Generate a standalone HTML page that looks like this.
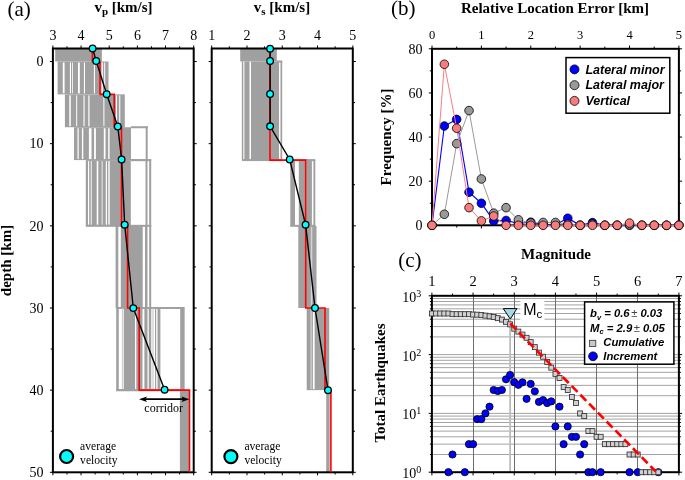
<!DOCTYPE html>
<html><head><meta charset="utf-8"><style>
html,body{margin:0;padding:0;background:#fff;}
svg{display:block;}
svg{will-change:transform;}
</style></head><body>
<svg width="685" height="480" viewBox="0 0 685 480">
<rect width="685" height="480" fill="#fff"/>
<g>
<rect x="55.20" y="48.50" width="46.70" height="13.00" fill="#a0a0a0"/>
<rect x="57.60" y="61.50" width="50.90" height="32.86" fill="#a0a0a0"/>
<rect x="62.80" y="62.50" width="1.80" height="30.86" fill="#fff"/>
<rect x="69.90" y="62.50" width="1.10" height="30.86" fill="#fff"/>
<rect x="72.20" y="62.50" width="0.80" height="30.86" fill="#fff"/>
<rect x="78.00" y="62.50" width="1.80" height="30.86" fill="#fff"/>
<rect x="83.90" y="62.50" width="1.10" height="30.86" fill="#fff"/>
<rect x="93.90" y="62.50" width="1.10" height="30.86" fill="#fff"/>
<rect x="101.60" y="62.50" width="1.20" height="30.86" fill="#fff"/>
<rect x="104.20" y="62.50" width="1.00" height="30.86" fill="#fff"/>
<rect x="64.90" y="94.36" width="59.90" height="32.86" fill="#a0a0a0"/>
<rect x="69.30" y="95.36" width="1.50" height="30.86" fill="#fff"/>
<rect x="76.20" y="95.36" width="1.00" height="30.86" fill="#fff"/>
<rect x="83.50" y="95.36" width="1.10" height="30.86" fill="#fff"/>
<rect x="88.30" y="95.36" width="1.20" height="30.86" fill="#fff"/>
<rect x="103.40" y="95.36" width="1.00" height="30.86" fill="#fff"/>
<rect x="116.00" y="95.36" width="1.00" height="30.86" fill="#fff"/>
<rect x="119.20" y="95.36" width="1.10" height="30.86" fill="#fff"/>
<rect x="131.00" y="126.23" width="16.70" height="2.00" fill="#a0a0a0"/>
<rect x="131.00" y="159.09" width="16.70" height="2.00" fill="#a0a0a0"/>
<rect x="145.70" y="126.23" width="2.00" height="34.86" fill="#a0a0a0"/>
<rect x="74.00" y="127.23" width="57.00" height="32.86" fill="#a0a0a0"/>
<rect x="77.50" y="128.23" width="1.20" height="30.86" fill="#fff"/>
<rect x="81.90" y="128.23" width="1.40" height="30.86" fill="#fff"/>
<rect x="88.90" y="128.23" width="2.60" height="30.86" fill="#fff"/>
<rect x="94.10" y="128.23" width="1.80" height="30.86" fill="#fff"/>
<rect x="103.80" y="128.23" width="1.70" height="30.86" fill="#fff"/>
<rect x="108.20" y="128.23" width="1.40" height="30.86" fill="#fff"/>
<rect x="130.80" y="159.09" width="20.40" height="2.00" fill="#a0a0a0"/>
<rect x="130.80" y="224.82" width="20.40" height="2.00" fill="#a0a0a0"/>
<rect x="149.20" y="159.09" width="2.00" height="67.73" fill="#a0a0a0"/>
<rect x="145.50" y="160.09" width="2.00" height="65.73" fill="#a0a0a0"/>
<rect x="85.80" y="160.09" width="45.00" height="65.73" fill="#a0a0a0"/>
<rect x="88.00" y="161.09" width="1.20" height="63.73" fill="#fff"/>
<rect x="90.80" y="161.09" width="0.90" height="63.73" fill="#fff"/>
<rect x="96.70" y="161.09" width="1.60" height="63.73" fill="#fff"/>
<rect x="101.70" y="161.09" width="0.80" height="63.73" fill="#fff"/>
<rect x="105.80" y="161.09" width="1.20" height="63.73" fill="#fff"/>
<rect x="108.30" y="161.09" width="1.40" height="63.73" fill="#fff"/>
<rect x="85.80" y="224.82" width="45.00" height="2.00" fill="#a0a0a0"/>
<rect x="115.60" y="225.82" width="2.70" height="82.16" fill="#a0a0a0"/>
<rect x="120.80" y="225.82" width="21.90" height="82.16" fill="#a0a0a0"/>
<rect x="145.00" y="225.82" width="2.50" height="82.16" fill="#a0a0a0"/>
<rect x="149.20" y="225.82" width="2.00" height="82.16" fill="#a0a0a0"/>
<rect x="116.20" y="306.98" width="68.20" height="2.00" fill="#a0a0a0"/>
<rect x="116.20" y="389.14" width="68.20" height="2.00" fill="#a0a0a0"/>
<rect x="182.40" y="306.98" width="2.00" height="84.16" fill="#a0a0a0"/>
<rect x="116.20" y="307.98" width="2.55" height="82.16" fill="#a0a0a0"/>
<rect x="121.90" y="307.98" width="1.00" height="82.16" fill="#c8c8c8"/>
<rect x="123.75" y="307.98" width="11.25" height="82.16" fill="#a0a0a0"/>
<rect x="136.30" y="307.98" width="6.20" height="82.16" fill="#a0a0a0"/>
<rect x="144.40" y="307.98" width="3.10" height="82.16" fill="#a0a0a0"/>
<rect x="148.75" y="307.98" width="2.50" height="82.16" fill="#a0a0a0"/>
<rect x="152.50" y="307.98" width="1.00" height="82.16" fill="#c0c0c0"/>
<rect x="155.00" y="307.98" width="1.20" height="82.16" fill="#a0a0a0"/>
<rect x="157.50" y="307.98" width="2.90" height="82.16" fill="#a0a0a0"/>
<rect x="180.20" y="307.98" width="4.20" height="82.16" fill="#a0a0a0"/>
<rect x="116.20" y="389.14" width="68.20" height="2.00" fill="#a0a0a0"/>
<rect x="179.90" y="390.14" width="9.50" height="82.16" fill="#a0a0a0"/>
</g>
<rect x="240.20" y="48.50" width="36.60" height="13.00" fill="#a0a0a0"/>
<rect x="241.80" y="61.50" width="1.50" height="98.59" fill="#a0a0a0"/>
<rect x="244.40" y="61.50" width="5.10" height="98.59" fill="#a0a0a0"/>
<rect x="251.00" y="61.50" width="28.00" height="98.59" fill="#a0a0a0"/>
<rect x="280.50" y="61.50" width="1.70" height="98.59" fill="#a0a0a0"/>
<rect x="276.80" y="60.50" width="5.50" height="2.00" fill="#a0a0a0"/>
<rect x="242.00" y="159.09" width="40.30" height="2.00" fill="#a0a0a0"/>
<rect x="290.30" y="159.09" width="25.00" height="2.00" fill="#a0a0a0"/>
<rect x="290.30" y="160.09" width="4.70" height="65.73" fill="#a0a0a0"/>
<rect x="298.80" y="160.09" width="6.50" height="65.73" fill="#a0a0a0"/>
<rect x="306.30" y="160.09" width="5.60" height="65.73" fill="#a0a0a0"/>
<rect x="313.40" y="160.09" width="1.90" height="65.73" fill="#a0a0a0"/>
<rect x="290.30" y="224.82" width="25.00" height="2.00" fill="#a0a0a0"/>
<rect x="298.30" y="225.82" width="18.20" height="82.16" fill="#a0a0a0"/>
<rect x="310.80" y="226.82" width="1.50" height="80.16" fill="#d4d4d4"/>
<rect x="306.70" y="307.98" width="22.50" height="82.16" fill="#a0a0a0"/>
<rect x="312.90" y="308.98" width="1.70" height="80.16" fill="#fff"/>
<rect x="310.60" y="308.98" width="0.90" height="80.16" fill="#e8e8e8"/>
<rect x="326.20" y="390.14" width="3.50" height="82.16" fill="#a0a0a0"/>
<line x1="431.90" y1="454.50" x2="678.90" y2="454.50" stroke="#8c8c8c" stroke-width="0.8" />
<line x1="431.90" y1="444.15" x2="678.90" y2="444.15" stroke="#8c8c8c" stroke-width="0.8" />
<line x1="431.90" y1="436.80" x2="678.90" y2="436.80" stroke="#8c8c8c" stroke-width="0.8" />
<line x1="431.90" y1="431.10" x2="678.90" y2="431.10" stroke="#8c8c8c" stroke-width="0.8" />
<line x1="431.90" y1="426.44" x2="678.90" y2="426.44" stroke="#8c8c8c" stroke-width="0.8" />
<line x1="431.90" y1="422.51" x2="678.90" y2="422.51" stroke="#8c8c8c" stroke-width="0.8" />
<line x1="431.90" y1="419.10" x2="678.90" y2="419.10" stroke="#8c8c8c" stroke-width="0.8" />
<line x1="431.90" y1="416.09" x2="678.90" y2="416.09" stroke="#8c8c8c" stroke-width="0.8" />
<line x1="431.90" y1="413.40" x2="678.90" y2="413.40" stroke="#8c8c8c" stroke-width="0.8" />
<line x1="431.90" y1="395.70" x2="678.90" y2="395.70" stroke="#8c8c8c" stroke-width="0.8" />
<line x1="431.90" y1="385.35" x2="678.90" y2="385.35" stroke="#8c8c8c" stroke-width="0.8" />
<line x1="431.90" y1="378.00" x2="678.90" y2="378.00" stroke="#8c8c8c" stroke-width="0.8" />
<line x1="431.90" y1="372.30" x2="678.90" y2="372.30" stroke="#8c8c8c" stroke-width="0.8" />
<line x1="431.90" y1="367.64" x2="678.90" y2="367.64" stroke="#8c8c8c" stroke-width="0.8" />
<line x1="431.90" y1="363.71" x2="678.90" y2="363.71" stroke="#8c8c8c" stroke-width="0.8" />
<line x1="431.90" y1="360.30" x2="678.90" y2="360.30" stroke="#8c8c8c" stroke-width="0.8" />
<line x1="431.90" y1="357.29" x2="678.90" y2="357.29" stroke="#8c8c8c" stroke-width="0.8" />
<line x1="431.90" y1="354.60" x2="678.90" y2="354.60" stroke="#8c8c8c" stroke-width="0.8" />
<line x1="431.90" y1="336.90" x2="678.90" y2="336.90" stroke="#8c8c8c" stroke-width="0.8" />
<line x1="431.90" y1="326.55" x2="678.90" y2="326.55" stroke="#8c8c8c" stroke-width="0.8" />
<line x1="431.90" y1="319.20" x2="678.90" y2="319.20" stroke="#8c8c8c" stroke-width="0.8" />
<line x1="431.90" y1="313.50" x2="678.90" y2="313.50" stroke="#8c8c8c" stroke-width="0.8" />
<line x1="431.90" y1="308.84" x2="678.90" y2="308.84" stroke="#8c8c8c" stroke-width="0.8" />
<line x1="431.90" y1="304.91" x2="678.90" y2="304.91" stroke="#8c8c8c" stroke-width="0.8" />
<line x1="431.90" y1="301.50" x2="678.90" y2="301.50" stroke="#8c8c8c" stroke-width="0.8" />
<line x1="431.90" y1="298.49" x2="678.90" y2="298.49" stroke="#8c8c8c" stroke-width="0.8" />
<line x1="473.50" y1="295.80" x2="473.50" y2="472.20" stroke="#6e6e6e" stroke-width="1" />
<line x1="514.50" y1="295.80" x2="514.50" y2="472.20" stroke="#6e6e6e" stroke-width="1" />
<line x1="555.50" y1="295.80" x2="555.50" y2="472.20" stroke="#6e6e6e" stroke-width="1" />
<line x1="596.50" y1="295.80" x2="596.50" y2="472.20" stroke="#6e6e6e" stroke-width="1" />
<line x1="637.50" y1="295.80" x2="637.50" y2="472.20" stroke="#6e6e6e" stroke-width="1" />
<line x1="510.12" y1="320.00" x2="510.12" y2="472.20" stroke="#bdbdbd" stroke-width="1.8" />
<rect x="520.40" y="300.00" width="24.10" height="20.80" fill="#fff"/>
<rect x="52.90" y="48.50" width="140.80" height="423.80" fill="none" stroke="#000" stroke-width="2"/>
<line x1="52.90" y1="48.50" x2="52.90" y2="45.50" stroke="#000" stroke-width="1" />
<line x1="52.90" y1="472.30" x2="52.90" y2="475.30" stroke="#000" stroke-width="1" />
<text x="52.90" y="39.80" font-family="'Liberation Serif', serif" font-size="14" text-anchor="middle" font-weight="normal" font-style="normal" fill="#000" >3</text>
<line x1="66.98" y1="48.50" x2="66.98" y2="46.30" stroke="#000" stroke-width="1" />
<line x1="66.98" y1="472.30" x2="66.98" y2="474.50" stroke="#000" stroke-width="1" />
<line x1="81.06" y1="48.50" x2="81.06" y2="45.50" stroke="#000" stroke-width="1" />
<line x1="81.06" y1="472.30" x2="81.06" y2="475.30" stroke="#000" stroke-width="1" />
<text x="81.06" y="39.80" font-family="'Liberation Serif', serif" font-size="14" text-anchor="middle" font-weight="normal" font-style="normal" fill="#000" >4</text>
<line x1="95.14" y1="48.50" x2="95.14" y2="46.30" stroke="#000" stroke-width="1" />
<line x1="95.14" y1="472.30" x2="95.14" y2="474.50" stroke="#000" stroke-width="1" />
<line x1="109.22" y1="48.50" x2="109.22" y2="45.50" stroke="#000" stroke-width="1" />
<line x1="109.22" y1="472.30" x2="109.22" y2="475.30" stroke="#000" stroke-width="1" />
<text x="109.22" y="39.80" font-family="'Liberation Serif', serif" font-size="14" text-anchor="middle" font-weight="normal" font-style="normal" fill="#000" >5</text>
<line x1="123.30" y1="48.50" x2="123.30" y2="46.30" stroke="#000" stroke-width="1" />
<line x1="123.30" y1="472.30" x2="123.30" y2="474.50" stroke="#000" stroke-width="1" />
<line x1="137.38" y1="48.50" x2="137.38" y2="45.50" stroke="#000" stroke-width="1" />
<line x1="137.38" y1="472.30" x2="137.38" y2="475.30" stroke="#000" stroke-width="1" />
<text x="137.38" y="39.80" font-family="'Liberation Serif', serif" font-size="14" text-anchor="middle" font-weight="normal" font-style="normal" fill="#000" >6</text>
<line x1="151.46" y1="48.50" x2="151.46" y2="46.30" stroke="#000" stroke-width="1" />
<line x1="151.46" y1="472.30" x2="151.46" y2="474.50" stroke="#000" stroke-width="1" />
<line x1="165.54" y1="48.50" x2="165.54" y2="45.50" stroke="#000" stroke-width="1" />
<line x1="165.54" y1="472.30" x2="165.54" y2="475.30" stroke="#000" stroke-width="1" />
<text x="165.54" y="39.80" font-family="'Liberation Serif', serif" font-size="14" text-anchor="middle" font-weight="normal" font-style="normal" fill="#000" >7</text>
<line x1="179.62" y1="48.50" x2="179.62" y2="46.30" stroke="#000" stroke-width="1" />
<line x1="179.62" y1="472.30" x2="179.62" y2="474.50" stroke="#000" stroke-width="1" />
<line x1="193.70" y1="48.50" x2="193.70" y2="45.50" stroke="#000" stroke-width="1" />
<line x1="193.70" y1="472.30" x2="193.70" y2="475.30" stroke="#000" stroke-width="1" />
<text x="193.70" y="39.80" font-family="'Liberation Serif', serif" font-size="14" text-anchor="middle" font-weight="normal" font-style="normal" fill="#000" >8</text>
<line x1="52.90" y1="61.50" x2="49.90" y2="61.50" stroke="#000" stroke-width="1" />
<line x1="193.70" y1="61.50" x2="196.70" y2="61.50" stroke="#000" stroke-width="1" />
<line x1="52.90" y1="102.58" x2="50.70" y2="102.58" stroke="#000" stroke-width="1" />
<line x1="193.70" y1="102.58" x2="195.90" y2="102.58" stroke="#000" stroke-width="1" />
<line x1="52.90" y1="143.66" x2="49.90" y2="143.66" stroke="#000" stroke-width="1" />
<line x1="193.70" y1="143.66" x2="196.70" y2="143.66" stroke="#000" stroke-width="1" />
<line x1="52.90" y1="184.74" x2="50.70" y2="184.74" stroke="#000" stroke-width="1" />
<line x1="193.70" y1="184.74" x2="195.90" y2="184.74" stroke="#000" stroke-width="1" />
<line x1="52.90" y1="225.82" x2="49.90" y2="225.82" stroke="#000" stroke-width="1" />
<line x1="193.70" y1="225.82" x2="196.70" y2="225.82" stroke="#000" stroke-width="1" />
<line x1="52.90" y1="266.90" x2="50.70" y2="266.90" stroke="#000" stroke-width="1" />
<line x1="193.70" y1="266.90" x2="195.90" y2="266.90" stroke="#000" stroke-width="1" />
<line x1="52.90" y1="307.98" x2="49.90" y2="307.98" stroke="#000" stroke-width="1" />
<line x1="193.70" y1="307.98" x2="196.70" y2="307.98" stroke="#000" stroke-width="1" />
<line x1="52.90" y1="349.06" x2="50.70" y2="349.06" stroke="#000" stroke-width="1" />
<line x1="193.70" y1="349.06" x2="195.90" y2="349.06" stroke="#000" stroke-width="1" />
<line x1="52.90" y1="390.14" x2="49.90" y2="390.14" stroke="#000" stroke-width="1" />
<line x1="193.70" y1="390.14" x2="196.70" y2="390.14" stroke="#000" stroke-width="1" />
<line x1="52.90" y1="431.22" x2="50.70" y2="431.22" stroke="#000" stroke-width="1" />
<line x1="193.70" y1="431.22" x2="195.90" y2="431.22" stroke="#000" stroke-width="1" />
<line x1="52.90" y1="472.30" x2="49.90" y2="472.30" stroke="#000" stroke-width="1" />
<line x1="193.70" y1="472.30" x2="196.70" y2="472.30" stroke="#000" stroke-width="1" />
<rect x="211.70" y="48.50" width="141.10" height="423.80" fill="none" stroke="#000" stroke-width="2"/>
<line x1="211.70" y1="48.50" x2="211.70" y2="45.50" stroke="#000" stroke-width="1" />
<line x1="211.70" y1="472.30" x2="211.70" y2="475.30" stroke="#000" stroke-width="1" />
<text x="211.70" y="39.80" font-family="'Liberation Serif', serif" font-size="14" text-anchor="middle" font-weight="normal" font-style="normal" fill="#000" >1</text>
<line x1="229.34" y1="48.50" x2="229.34" y2="46.30" stroke="#000" stroke-width="1" />
<line x1="229.34" y1="472.30" x2="229.34" y2="474.50" stroke="#000" stroke-width="1" />
<line x1="246.97" y1="48.50" x2="246.97" y2="45.50" stroke="#000" stroke-width="1" />
<line x1="246.97" y1="472.30" x2="246.97" y2="475.30" stroke="#000" stroke-width="1" />
<text x="246.97" y="39.80" font-family="'Liberation Serif', serif" font-size="14" text-anchor="middle" font-weight="normal" font-style="normal" fill="#000" >2</text>
<line x1="264.61" y1="48.50" x2="264.61" y2="46.30" stroke="#000" stroke-width="1" />
<line x1="264.61" y1="472.30" x2="264.61" y2="474.50" stroke="#000" stroke-width="1" />
<line x1="282.25" y1="48.50" x2="282.25" y2="45.50" stroke="#000" stroke-width="1" />
<line x1="282.25" y1="472.30" x2="282.25" y2="475.30" stroke="#000" stroke-width="1" />
<text x="282.25" y="39.80" font-family="'Liberation Serif', serif" font-size="14" text-anchor="middle" font-weight="normal" font-style="normal" fill="#000" >3</text>
<line x1="299.89" y1="48.50" x2="299.89" y2="46.30" stroke="#000" stroke-width="1" />
<line x1="299.89" y1="472.30" x2="299.89" y2="474.50" stroke="#000" stroke-width="1" />
<line x1="317.52" y1="48.50" x2="317.52" y2="45.50" stroke="#000" stroke-width="1" />
<line x1="317.52" y1="472.30" x2="317.52" y2="475.30" stroke="#000" stroke-width="1" />
<text x="317.52" y="39.80" font-family="'Liberation Serif', serif" font-size="14" text-anchor="middle" font-weight="normal" font-style="normal" fill="#000" >4</text>
<line x1="335.16" y1="48.50" x2="335.16" y2="46.30" stroke="#000" stroke-width="1" />
<line x1="335.16" y1="472.30" x2="335.16" y2="474.50" stroke="#000" stroke-width="1" />
<line x1="352.80" y1="48.50" x2="352.80" y2="45.50" stroke="#000" stroke-width="1" />
<line x1="352.80" y1="472.30" x2="352.80" y2="475.30" stroke="#000" stroke-width="1" />
<text x="352.80" y="39.80" font-family="'Liberation Serif', serif" font-size="14" text-anchor="middle" font-weight="normal" font-style="normal" fill="#000" >5</text>
<line x1="211.70" y1="61.50" x2="208.70" y2="61.50" stroke="#000" stroke-width="1" />
<line x1="352.80" y1="61.50" x2="355.80" y2="61.50" stroke="#000" stroke-width="1" />
<line x1="211.70" y1="102.58" x2="209.50" y2="102.58" stroke="#000" stroke-width="1" />
<line x1="352.80" y1="102.58" x2="355.00" y2="102.58" stroke="#000" stroke-width="1" />
<line x1="211.70" y1="143.66" x2="208.70" y2="143.66" stroke="#000" stroke-width="1" />
<line x1="352.80" y1="143.66" x2="355.80" y2="143.66" stroke="#000" stroke-width="1" />
<line x1="211.70" y1="184.74" x2="209.50" y2="184.74" stroke="#000" stroke-width="1" />
<line x1="352.80" y1="184.74" x2="355.00" y2="184.74" stroke="#000" stroke-width="1" />
<line x1="211.70" y1="225.82" x2="208.70" y2="225.82" stroke="#000" stroke-width="1" />
<line x1="352.80" y1="225.82" x2="355.80" y2="225.82" stroke="#000" stroke-width="1" />
<line x1="211.70" y1="266.90" x2="209.50" y2="266.90" stroke="#000" stroke-width="1" />
<line x1="352.80" y1="266.90" x2="355.00" y2="266.90" stroke="#000" stroke-width="1" />
<line x1="211.70" y1="307.98" x2="208.70" y2="307.98" stroke="#000" stroke-width="1" />
<line x1="352.80" y1="307.98" x2="355.80" y2="307.98" stroke="#000" stroke-width="1" />
<line x1="211.70" y1="349.06" x2="209.50" y2="349.06" stroke="#000" stroke-width="1" />
<line x1="352.80" y1="349.06" x2="355.00" y2="349.06" stroke="#000" stroke-width="1" />
<line x1="211.70" y1="390.14" x2="208.70" y2="390.14" stroke="#000" stroke-width="1" />
<line x1="352.80" y1="390.14" x2="355.80" y2="390.14" stroke="#000" stroke-width="1" />
<line x1="211.70" y1="431.22" x2="209.50" y2="431.22" stroke="#000" stroke-width="1" />
<line x1="352.80" y1="431.22" x2="355.00" y2="431.22" stroke="#000" stroke-width="1" />
<line x1="211.70" y1="472.30" x2="208.70" y2="472.30" stroke="#000" stroke-width="1" />
<line x1="352.80" y1="472.30" x2="355.80" y2="472.30" stroke="#000" stroke-width="1" />
<text x="43.50" y="66.30" font-family="'Liberation Serif', serif" font-size="14" text-anchor="end" font-weight="normal" font-style="normal" fill="#000" >0</text>
<text x="43.50" y="148.46" font-family="'Liberation Serif', serif" font-size="14" text-anchor="end" font-weight="normal" font-style="normal" fill="#000" >10</text>
<text x="43.50" y="230.62" font-family="'Liberation Serif', serif" font-size="14" text-anchor="end" font-weight="normal" font-style="normal" fill="#000" >20</text>
<text x="43.50" y="312.78" font-family="'Liberation Serif', serif" font-size="14" text-anchor="end" font-weight="normal" font-style="normal" fill="#000" >30</text>
<text x="43.50" y="394.94" font-family="'Liberation Serif', serif" font-size="14" text-anchor="end" font-weight="normal" font-style="normal" fill="#000" >40</text>
<text x="43.50" y="477.10" font-family="'Liberation Serif', serif" font-size="14" text-anchor="end" font-weight="normal" font-style="normal" fill="#000" >50</text>
<text x="7.50" y="16.10" font-family="'Liberation Serif', serif" font-size="21" text-anchor="start" font-weight="normal" font-style="normal" fill="#000" >(a)</text>
<text x="123.50" y="12.00" font-family="'Liberation Serif', serif" font-size="15" text-anchor="middle" font-weight="bold" font-style="normal" fill="#000" >v<tspan font-size="11" dy="2.5">p</tspan><tspan dy="-2.5"> [km/s]</tspan></text>
<text x="282.00" y="12.00" font-family="'Liberation Serif', serif" font-size="15" text-anchor="middle" font-weight="bold" font-style="normal" fill="#000" >v<tspan font-size="11" dy="2.5">s</tspan><tspan dy="-2.5"> [km/s]</tspan></text>
<text x="10.50" y="260.50" font-family="'Liberation Serif', serif" font-size="15" text-anchor="middle" font-weight="bold" font-style="normal" fill="#000" transform="rotate(-90 10.5 260.5)">depth [km]</text>
<rect x="432.00" y="48.80" width="246.90" height="176.50" fill="none" stroke="#000" stroke-width="2"/>
<line x1="432.00" y1="48.80" x2="432.00" y2="45.60" stroke="#000" stroke-width="1" />
<line x1="432.00" y1="225.30" x2="432.00" y2="228.50" stroke="#000" stroke-width="1" />
<text x="432.00" y="39.10" font-family="'Liberation Serif', serif" font-size="12.5" text-anchor="middle" font-weight="normal" font-style="normal" fill="#000" >0</text>
<line x1="456.69" y1="48.80" x2="456.69" y2="46.60" stroke="#000" stroke-width="1" />
<line x1="456.69" y1="225.30" x2="456.69" y2="227.50" stroke="#000" stroke-width="1" />
<line x1="481.38" y1="48.80" x2="481.38" y2="45.60" stroke="#000" stroke-width="1" />
<line x1="481.38" y1="225.30" x2="481.38" y2="228.50" stroke="#000" stroke-width="1" />
<text x="481.38" y="39.10" font-family="'Liberation Serif', serif" font-size="12.5" text-anchor="middle" font-weight="normal" font-style="normal" fill="#000" >1</text>
<line x1="506.07" y1="48.80" x2="506.07" y2="46.60" stroke="#000" stroke-width="1" />
<line x1="506.07" y1="225.30" x2="506.07" y2="227.50" stroke="#000" stroke-width="1" />
<line x1="530.76" y1="48.80" x2="530.76" y2="45.60" stroke="#000" stroke-width="1" />
<line x1="530.76" y1="225.30" x2="530.76" y2="228.50" stroke="#000" stroke-width="1" />
<text x="530.76" y="39.10" font-family="'Liberation Serif', serif" font-size="12.5" text-anchor="middle" font-weight="normal" font-style="normal" fill="#000" >2</text>
<line x1="555.45" y1="48.80" x2="555.45" y2="46.60" stroke="#000" stroke-width="1" />
<line x1="555.45" y1="225.30" x2="555.45" y2="227.50" stroke="#000" stroke-width="1" />
<line x1="580.14" y1="48.80" x2="580.14" y2="45.60" stroke="#000" stroke-width="1" />
<line x1="580.14" y1="225.30" x2="580.14" y2="228.50" stroke="#000" stroke-width="1" />
<text x="580.14" y="39.10" font-family="'Liberation Serif', serif" font-size="12.5" text-anchor="middle" font-weight="normal" font-style="normal" fill="#000" >3</text>
<line x1="604.83" y1="48.80" x2="604.83" y2="46.60" stroke="#000" stroke-width="1" />
<line x1="604.83" y1="225.30" x2="604.83" y2="227.50" stroke="#000" stroke-width="1" />
<line x1="629.52" y1="48.80" x2="629.52" y2="45.60" stroke="#000" stroke-width="1" />
<line x1="629.52" y1="225.30" x2="629.52" y2="228.50" stroke="#000" stroke-width="1" />
<text x="629.52" y="39.10" font-family="'Liberation Serif', serif" font-size="12.5" text-anchor="middle" font-weight="normal" font-style="normal" fill="#000" >4</text>
<line x1="654.21" y1="48.80" x2="654.21" y2="46.60" stroke="#000" stroke-width="1" />
<line x1="654.21" y1="225.30" x2="654.21" y2="227.50" stroke="#000" stroke-width="1" />
<line x1="678.90" y1="48.80" x2="678.90" y2="45.60" stroke="#000" stroke-width="1" />
<line x1="678.90" y1="225.30" x2="678.90" y2="228.50" stroke="#000" stroke-width="1" />
<text x="678.90" y="39.10" font-family="'Liberation Serif', serif" font-size="12.5" text-anchor="middle" font-weight="normal" font-style="normal" fill="#000" >5</text>
<line x1="432.00" y1="225.30" x2="428.80" y2="225.30" stroke="#000" stroke-width="1" />
<line x1="678.90" y1="225.30" x2="682.10" y2="225.30" stroke="#000" stroke-width="1" />
<text x="422.60" y="230.10" font-family="'Liberation Serif', serif" font-size="14" text-anchor="end" font-weight="normal" font-style="normal" fill="#000" >0</text>
<line x1="432.00" y1="203.24" x2="429.80" y2="203.24" stroke="#000" stroke-width="1" />
<line x1="678.90" y1="203.24" x2="681.10" y2="203.24" stroke="#000" stroke-width="1" />
<line x1="432.00" y1="181.18" x2="428.80" y2="181.18" stroke="#000" stroke-width="1" />
<line x1="678.90" y1="181.18" x2="682.10" y2="181.18" stroke="#000" stroke-width="1" />
<text x="422.60" y="185.98" font-family="'Liberation Serif', serif" font-size="14" text-anchor="end" font-weight="normal" font-style="normal" fill="#000" >20</text>
<line x1="432.00" y1="159.11" x2="429.80" y2="159.11" stroke="#000" stroke-width="1" />
<line x1="678.90" y1="159.11" x2="681.10" y2="159.11" stroke="#000" stroke-width="1" />
<line x1="432.00" y1="137.05" x2="428.80" y2="137.05" stroke="#000" stroke-width="1" />
<line x1="678.90" y1="137.05" x2="682.10" y2="137.05" stroke="#000" stroke-width="1" />
<text x="422.60" y="141.85" font-family="'Liberation Serif', serif" font-size="14" text-anchor="end" font-weight="normal" font-style="normal" fill="#000" >40</text>
<line x1="432.00" y1="114.99" x2="429.80" y2="114.99" stroke="#000" stroke-width="1" />
<line x1="678.90" y1="114.99" x2="681.10" y2="114.99" stroke="#000" stroke-width="1" />
<line x1="432.00" y1="92.93" x2="428.80" y2="92.93" stroke="#000" stroke-width="1" />
<line x1="678.90" y1="92.93" x2="682.10" y2="92.93" stroke="#000" stroke-width="1" />
<text x="422.60" y="97.73" font-family="'Liberation Serif', serif" font-size="14" text-anchor="end" font-weight="normal" font-style="normal" fill="#000" >60</text>
<line x1="432.00" y1="70.86" x2="429.80" y2="70.86" stroke="#000" stroke-width="1" />
<line x1="678.90" y1="70.86" x2="681.10" y2="70.86" stroke="#000" stroke-width="1" />
<line x1="432.00" y1="48.80" x2="428.80" y2="48.80" stroke="#000" stroke-width="1" />
<line x1="678.90" y1="48.80" x2="682.10" y2="48.80" stroke="#000" stroke-width="1" />
<text x="422.60" y="53.60" font-family="'Liberation Serif', serif" font-size="14" text-anchor="end" font-weight="normal" font-style="normal" fill="#000" >80</text>
<rect x="431.90" y="295.80" width="247.00" height="176.40" fill="none" stroke="#000" stroke-width="2"/>
<line x1="431.90" y1="295.80" x2="431.90" y2="292.60" stroke="#000" stroke-width="1" />
<line x1="431.90" y1="472.20" x2="431.90" y2="475.40" stroke="#000" stroke-width="1" />
<text x="431.90" y="285.80" font-family="'Liberation Serif', serif" font-size="14.5" text-anchor="middle" font-weight="normal" font-style="normal" fill="#000" >1</text>
<line x1="452.48" y1="295.80" x2="452.48" y2="293.60" stroke="#000" stroke-width="1" />
<line x1="452.48" y1="472.20" x2="452.48" y2="474.40" stroke="#000" stroke-width="1" />
<line x1="473.07" y1="295.80" x2="473.07" y2="292.60" stroke="#000" stroke-width="1" />
<line x1="473.07" y1="472.20" x2="473.07" y2="475.40" stroke="#000" stroke-width="1" />
<text x="473.07" y="285.80" font-family="'Liberation Serif', serif" font-size="14.5" text-anchor="middle" font-weight="normal" font-style="normal" fill="#000" >2</text>
<line x1="493.65" y1="295.80" x2="493.65" y2="293.60" stroke="#000" stroke-width="1" />
<line x1="493.65" y1="472.20" x2="493.65" y2="474.40" stroke="#000" stroke-width="1" />
<line x1="514.23" y1="295.80" x2="514.23" y2="292.60" stroke="#000" stroke-width="1" />
<line x1="514.23" y1="472.20" x2="514.23" y2="475.40" stroke="#000" stroke-width="1" />
<text x="514.23" y="285.80" font-family="'Liberation Serif', serif" font-size="14.5" text-anchor="middle" font-weight="normal" font-style="normal" fill="#000" >3</text>
<line x1="534.82" y1="295.80" x2="534.82" y2="293.60" stroke="#000" stroke-width="1" />
<line x1="534.82" y1="472.20" x2="534.82" y2="474.40" stroke="#000" stroke-width="1" />
<line x1="555.40" y1="295.80" x2="555.40" y2="292.60" stroke="#000" stroke-width="1" />
<line x1="555.40" y1="472.20" x2="555.40" y2="475.40" stroke="#000" stroke-width="1" />
<text x="555.40" y="285.80" font-family="'Liberation Serif', serif" font-size="14.5" text-anchor="middle" font-weight="normal" font-style="normal" fill="#000" >4</text>
<line x1="575.98" y1="295.80" x2="575.98" y2="293.60" stroke="#000" stroke-width="1" />
<line x1="575.98" y1="472.20" x2="575.98" y2="474.40" stroke="#000" stroke-width="1" />
<line x1="596.57" y1="295.80" x2="596.57" y2="292.60" stroke="#000" stroke-width="1" />
<line x1="596.57" y1="472.20" x2="596.57" y2="475.40" stroke="#000" stroke-width="1" />
<text x="596.57" y="285.80" font-family="'Liberation Serif', serif" font-size="14.5" text-anchor="middle" font-weight="normal" font-style="normal" fill="#000" >5</text>
<line x1="617.15" y1="295.80" x2="617.15" y2="293.60" stroke="#000" stroke-width="1" />
<line x1="617.15" y1="472.20" x2="617.15" y2="474.40" stroke="#000" stroke-width="1" />
<line x1="637.73" y1="295.80" x2="637.73" y2="292.60" stroke="#000" stroke-width="1" />
<line x1="637.73" y1="472.20" x2="637.73" y2="475.40" stroke="#000" stroke-width="1" />
<text x="637.73" y="285.80" font-family="'Liberation Serif', serif" font-size="14.5" text-anchor="middle" font-weight="normal" font-style="normal" fill="#000" >6</text>
<line x1="658.32" y1="295.80" x2="658.32" y2="293.60" stroke="#000" stroke-width="1" />
<line x1="658.32" y1="472.20" x2="658.32" y2="474.40" stroke="#000" stroke-width="1" />
<line x1="678.90" y1="295.80" x2="678.90" y2="292.60" stroke="#000" stroke-width="1" />
<line x1="678.90" y1="472.20" x2="678.90" y2="475.40" stroke="#000" stroke-width="1" />
<text x="678.90" y="285.80" font-family="'Liberation Serif', serif" font-size="14.5" text-anchor="middle" font-weight="normal" font-style="normal" fill="#000" >7</text>
<line x1="431.90" y1="472.20" x2="428.70" y2="472.20" stroke="#000" stroke-width="1" />
<line x1="678.90" y1="472.20" x2="682.10" y2="472.20" stroke="#000" stroke-width="1" />
<line x1="431.90" y1="454.50" x2="429.90" y2="454.50" stroke="#000" stroke-width="1" />
<line x1="678.90" y1="454.50" x2="680.90" y2="454.50" stroke="#000" stroke-width="1" />
<line x1="431.90" y1="444.15" x2="429.90" y2="444.15" stroke="#000" stroke-width="1" />
<line x1="678.90" y1="444.15" x2="680.90" y2="444.15" stroke="#000" stroke-width="1" />
<line x1="431.90" y1="436.80" x2="429.90" y2="436.80" stroke="#000" stroke-width="1" />
<line x1="678.90" y1="436.80" x2="680.90" y2="436.80" stroke="#000" stroke-width="1" />
<line x1="431.90" y1="431.10" x2="429.90" y2="431.10" stroke="#000" stroke-width="1" />
<line x1="678.90" y1="431.10" x2="680.90" y2="431.10" stroke="#000" stroke-width="1" />
<line x1="431.90" y1="426.44" x2="429.90" y2="426.44" stroke="#000" stroke-width="1" />
<line x1="678.90" y1="426.44" x2="680.90" y2="426.44" stroke="#000" stroke-width="1" />
<line x1="431.90" y1="422.51" x2="429.90" y2="422.51" stroke="#000" stroke-width="1" />
<line x1="678.90" y1="422.51" x2="680.90" y2="422.51" stroke="#000" stroke-width="1" />
<line x1="431.90" y1="419.10" x2="429.90" y2="419.10" stroke="#000" stroke-width="1" />
<line x1="678.90" y1="419.10" x2="680.90" y2="419.10" stroke="#000" stroke-width="1" />
<line x1="431.90" y1="416.09" x2="429.90" y2="416.09" stroke="#000" stroke-width="1" />
<line x1="678.90" y1="416.09" x2="680.90" y2="416.09" stroke="#000" stroke-width="1" />
<text x="421.30" y="478.20" font-family="'Liberation Serif', serif" font-size="14" text-anchor="end" font-weight="normal" font-style="normal" fill="#000" >10<tspan font-size="10" dy="-5">0</tspan></text>
<line x1="431.90" y1="413.40" x2="428.70" y2="413.40" stroke="#000" stroke-width="1" />
<line x1="678.90" y1="413.40" x2="682.10" y2="413.40" stroke="#000" stroke-width="1" />
<line x1="431.90" y1="395.70" x2="429.90" y2="395.70" stroke="#000" stroke-width="1" />
<line x1="678.90" y1="395.70" x2="680.90" y2="395.70" stroke="#000" stroke-width="1" />
<line x1="431.90" y1="385.35" x2="429.90" y2="385.35" stroke="#000" stroke-width="1" />
<line x1="678.90" y1="385.35" x2="680.90" y2="385.35" stroke="#000" stroke-width="1" />
<line x1="431.90" y1="378.00" x2="429.90" y2="378.00" stroke="#000" stroke-width="1" />
<line x1="678.90" y1="378.00" x2="680.90" y2="378.00" stroke="#000" stroke-width="1" />
<line x1="431.90" y1="372.30" x2="429.90" y2="372.30" stroke="#000" stroke-width="1" />
<line x1="678.90" y1="372.30" x2="680.90" y2="372.30" stroke="#000" stroke-width="1" />
<line x1="431.90" y1="367.64" x2="429.90" y2="367.64" stroke="#000" stroke-width="1" />
<line x1="678.90" y1="367.64" x2="680.90" y2="367.64" stroke="#000" stroke-width="1" />
<line x1="431.90" y1="363.71" x2="429.90" y2="363.71" stroke="#000" stroke-width="1" />
<line x1="678.90" y1="363.71" x2="680.90" y2="363.71" stroke="#000" stroke-width="1" />
<line x1="431.90" y1="360.30" x2="429.90" y2="360.30" stroke="#000" stroke-width="1" />
<line x1="678.90" y1="360.30" x2="680.90" y2="360.30" stroke="#000" stroke-width="1" />
<line x1="431.90" y1="357.29" x2="429.90" y2="357.29" stroke="#000" stroke-width="1" />
<line x1="678.90" y1="357.29" x2="680.90" y2="357.29" stroke="#000" stroke-width="1" />
<text x="421.30" y="419.40" font-family="'Liberation Serif', serif" font-size="14" text-anchor="end" font-weight="normal" font-style="normal" fill="#000" >10<tspan font-size="10" dy="-5">1</tspan></text>
<line x1="431.90" y1="354.60" x2="428.70" y2="354.60" stroke="#000" stroke-width="1" />
<line x1="678.90" y1="354.60" x2="682.10" y2="354.60" stroke="#000" stroke-width="1" />
<line x1="431.90" y1="336.90" x2="429.90" y2="336.90" stroke="#000" stroke-width="1" />
<line x1="678.90" y1="336.90" x2="680.90" y2="336.90" stroke="#000" stroke-width="1" />
<line x1="431.90" y1="326.55" x2="429.90" y2="326.55" stroke="#000" stroke-width="1" />
<line x1="678.90" y1="326.55" x2="680.90" y2="326.55" stroke="#000" stroke-width="1" />
<line x1="431.90" y1="319.20" x2="429.90" y2="319.20" stroke="#000" stroke-width="1" />
<line x1="678.90" y1="319.20" x2="680.90" y2="319.20" stroke="#000" stroke-width="1" />
<line x1="431.90" y1="313.50" x2="429.90" y2="313.50" stroke="#000" stroke-width="1" />
<line x1="678.90" y1="313.50" x2="680.90" y2="313.50" stroke="#000" stroke-width="1" />
<line x1="431.90" y1="308.84" x2="429.90" y2="308.84" stroke="#000" stroke-width="1" />
<line x1="678.90" y1="308.84" x2="680.90" y2="308.84" stroke="#000" stroke-width="1" />
<line x1="431.90" y1="304.91" x2="429.90" y2="304.91" stroke="#000" stroke-width="1" />
<line x1="678.90" y1="304.91" x2="680.90" y2="304.91" stroke="#000" stroke-width="1" />
<line x1="431.90" y1="301.50" x2="429.90" y2="301.50" stroke="#000" stroke-width="1" />
<line x1="678.90" y1="301.50" x2="680.90" y2="301.50" stroke="#000" stroke-width="1" />
<line x1="431.90" y1="298.49" x2="429.90" y2="298.49" stroke="#000" stroke-width="1" />
<line x1="678.90" y1="298.49" x2="680.90" y2="298.49" stroke="#000" stroke-width="1" />
<text x="421.30" y="360.60" font-family="'Liberation Serif', serif" font-size="14" text-anchor="end" font-weight="normal" font-style="normal" fill="#000" >10<tspan font-size="10" dy="-5">2</tspan></text>
<line x1="431.90" y1="295.80" x2="428.70" y2="295.80" stroke="#000" stroke-width="1" />
<line x1="678.90" y1="295.80" x2="682.10" y2="295.80" stroke="#000" stroke-width="1" />
<text x="421.30" y="301.80" font-family="'Liberation Serif', serif" font-size="14" text-anchor="end" font-weight="normal" font-style="normal" fill="#000" >10<tspan font-size="10" dy="-5">3</tspan></text>
<polyline points="92.40,48.50 92.40,61.50 100.00,61.50 100.00,94.36 114.20,94.36 114.20,127.23 121.50,127.23 121.50,225.82 127.60,225.82 127.60,307.98 139.20,307.98 139.20,390.14 189.50,390.14 189.50,472.30" fill="none" stroke="#ff0000" stroke-width="1.6" />
<polyline points="92.60,48.50 96.20,61.00 106.70,94.20 117.80,126.50 121.60,159.50 124.70,224.70 133.30,308.10 164.60,389.70" fill="none" stroke="#000" stroke-width="1.4" />
<circle cx="92.60" cy="48.50" r="3.3" fill="#00ffff" stroke="#000" stroke-width="1.3"/>
<circle cx="96.20" cy="61.00" r="3.3" fill="#00ffff" stroke="#000" stroke-width="1.3"/>
<circle cx="106.70" cy="94.20" r="3.3" fill="#00ffff" stroke="#000" stroke-width="1.3"/>
<circle cx="117.80" cy="126.50" r="3.3" fill="#00ffff" stroke="#000" stroke-width="1.3"/>
<circle cx="121.60" cy="159.50" r="3.3" fill="#00ffff" stroke="#000" stroke-width="1.3"/>
<circle cx="124.70" cy="224.70" r="3.3" fill="#00ffff" stroke="#000" stroke-width="1.3"/>
<circle cx="133.30" cy="308.10" r="3.3" fill="#00ffff" stroke="#000" stroke-width="1.3"/>
<circle cx="164.60" cy="389.70" r="3.3" fill="#00ffff" stroke="#000" stroke-width="1.3"/>
<polyline points="270.00,48.50 270.00,160.09 305.70,160.09 305.70,307.98 325.00,307.98 325.00,390.14 330.90,390.14 330.90,472.30" fill="none" stroke="#ff0000" stroke-width="1.6" />
<polyline points="270.10,48.70 270.10,61.00 270.10,94.00 270.10,126.30 289.70,159.50 305.60,224.70 315.00,308.00 328.00,390.20" fill="none" stroke="#000" stroke-width="1.4" />
<circle cx="270.10" cy="48.70" r="3.3" fill="#00ffff" stroke="#000" stroke-width="1.3"/>
<circle cx="270.10" cy="61.00" r="3.3" fill="#00ffff" stroke="#000" stroke-width="1.3"/>
<circle cx="270.10" cy="94.00" r="3.3" fill="#00ffff" stroke="#000" stroke-width="1.3"/>
<circle cx="270.10" cy="126.30" r="3.3" fill="#00ffff" stroke="#000" stroke-width="1.3"/>
<circle cx="289.70" cy="159.50" r="3.3" fill="#00ffff" stroke="#000" stroke-width="1.3"/>
<circle cx="305.60" cy="224.70" r="3.3" fill="#00ffff" stroke="#000" stroke-width="1.3"/>
<circle cx="315.00" cy="308.00" r="3.3" fill="#00ffff" stroke="#000" stroke-width="1.3"/>
<circle cx="328.00" cy="390.20" r="3.3" fill="#00ffff" stroke="#000" stroke-width="1.3"/>
<polyline points="432.00,225.30 444.35,126.02 456.69,119.40 469.03,192.21 481.38,203.24 493.73,220.89 506.07,220.45 518.41,223.54 530.76,222.21 543.11,224.64 555.45,224.64 567.79,218.24 580.14,225.30 592.49,222.65 604.83,225.30 617.17,225.30 629.52,225.30 641.87,225.30 654.21,225.30 666.55,225.30 678.90,225.30" fill="none" stroke="#0000ff" stroke-width="1.1" />
<circle cx="432.00" cy="225.30" r="4.3" fill="#0000ff" stroke="#000" stroke-width="0.8"/>
<circle cx="444.35" cy="126.02" r="4.3" fill="#0000ff" stroke="#000" stroke-width="0.8"/>
<circle cx="456.69" cy="119.40" r="4.3" fill="#0000ff" stroke="#000" stroke-width="0.8"/>
<circle cx="469.03" cy="192.21" r="4.3" fill="#0000ff" stroke="#000" stroke-width="0.8"/>
<circle cx="481.38" cy="203.24" r="4.3" fill="#0000ff" stroke="#000" stroke-width="0.8"/>
<circle cx="493.73" cy="220.89" r="4.3" fill="#0000ff" stroke="#000" stroke-width="0.8"/>
<circle cx="506.07" cy="220.45" r="4.3" fill="#0000ff" stroke="#000" stroke-width="0.8"/>
<circle cx="518.41" cy="223.54" r="4.3" fill="#0000ff" stroke="#000" stroke-width="0.8"/>
<circle cx="530.76" cy="222.21" r="4.3" fill="#0000ff" stroke="#000" stroke-width="0.8"/>
<circle cx="543.11" cy="224.64" r="4.3" fill="#0000ff" stroke="#000" stroke-width="0.8"/>
<circle cx="555.45" cy="224.64" r="4.3" fill="#0000ff" stroke="#000" stroke-width="0.8"/>
<circle cx="567.79" cy="218.24" r="4.3" fill="#0000ff" stroke="#000" stroke-width="0.8"/>
<circle cx="580.14" cy="225.30" r="4.3" fill="#0000ff" stroke="#000" stroke-width="0.8"/>
<circle cx="592.49" cy="222.65" r="4.3" fill="#0000ff" stroke="#000" stroke-width="0.8"/>
<circle cx="604.83" cy="225.30" r="4.3" fill="#0000ff" stroke="#000" stroke-width="0.8"/>
<circle cx="617.17" cy="225.30" r="4.3" fill="#0000ff" stroke="#000" stroke-width="0.8"/>
<circle cx="629.52" cy="225.30" r="4.3" fill="#0000ff" stroke="#000" stroke-width="0.8"/>
<circle cx="641.87" cy="225.30" r="4.3" fill="#0000ff" stroke="#000" stroke-width="0.8"/>
<circle cx="654.21" cy="225.30" r="4.3" fill="#0000ff" stroke="#000" stroke-width="0.8"/>
<circle cx="666.55" cy="225.30" r="4.3" fill="#0000ff" stroke="#000" stroke-width="0.8"/>
<circle cx="678.90" cy="225.30" r="4.3" fill="#0000ff" stroke="#000" stroke-width="0.8"/>
<polyline points="432.00,225.30 444.35,214.27 456.69,143.67 469.03,110.58 481.38,178.97 493.73,213.17 506.07,207.65 518.41,219.78 530.76,223.09 543.11,222.43 555.45,222.43 567.79,224.20 580.14,225.30 592.49,224.20 604.83,225.30 617.17,225.30 629.52,224.86 641.87,225.30 654.21,225.30 666.55,225.30 678.90,225.30" fill="none" stroke="#9a9a9a" stroke-width="1.0" />
<circle cx="432.00" cy="225.30" r="4.3" fill="#999999" stroke="#000" stroke-width="0.8"/>
<circle cx="444.35" cy="214.27" r="4.3" fill="#999999" stroke="#000" stroke-width="0.8"/>
<circle cx="456.69" cy="143.67" r="4.3" fill="#999999" stroke="#000" stroke-width="0.8"/>
<circle cx="469.03" cy="110.58" r="4.3" fill="#999999" stroke="#000" stroke-width="0.8"/>
<circle cx="481.38" cy="178.97" r="4.3" fill="#999999" stroke="#000" stroke-width="0.8"/>
<circle cx="493.73" cy="213.17" r="4.3" fill="#999999" stroke="#000" stroke-width="0.8"/>
<circle cx="506.07" cy="207.65" r="4.3" fill="#999999" stroke="#000" stroke-width="0.8"/>
<circle cx="518.41" cy="219.78" r="4.3" fill="#999999" stroke="#000" stroke-width="0.8"/>
<circle cx="530.76" cy="223.09" r="4.3" fill="#999999" stroke="#000" stroke-width="0.8"/>
<circle cx="543.11" cy="222.43" r="4.3" fill="#999999" stroke="#000" stroke-width="0.8"/>
<circle cx="555.45" cy="222.43" r="4.3" fill="#999999" stroke="#000" stroke-width="0.8"/>
<circle cx="567.79" cy="224.20" r="4.3" fill="#999999" stroke="#000" stroke-width="0.8"/>
<circle cx="580.14" cy="225.30" r="4.3" fill="#999999" stroke="#000" stroke-width="0.8"/>
<circle cx="592.49" cy="224.20" r="4.3" fill="#999999" stroke="#000" stroke-width="0.8"/>
<circle cx="604.83" cy="225.30" r="4.3" fill="#999999" stroke="#000" stroke-width="0.8"/>
<circle cx="617.17" cy="225.30" r="4.3" fill="#999999" stroke="#000" stroke-width="0.8"/>
<circle cx="629.52" cy="224.86" r="4.3" fill="#999999" stroke="#000" stroke-width="0.8"/>
<circle cx="641.87" cy="225.30" r="4.3" fill="#999999" stroke="#000" stroke-width="0.8"/>
<circle cx="654.21" cy="225.30" r="4.3" fill="#999999" stroke="#000" stroke-width="0.8"/>
<circle cx="666.55" cy="225.30" r="4.3" fill="#999999" stroke="#000" stroke-width="0.8"/>
<circle cx="678.90" cy="225.30" r="4.3" fill="#999999" stroke="#000" stroke-width="0.8"/>
<polyline points="432.00,225.30 444.35,64.24 456.69,128.23 469.03,207.65 481.38,220.89 493.73,216.03 506.07,225.30 518.41,225.30 530.76,225.30 543.11,225.30 555.45,225.30 567.79,225.30 580.14,225.30 592.49,225.30 604.83,225.30 617.17,225.30 629.52,223.09 641.87,225.30 654.21,225.30 666.55,225.30 678.90,225.30" fill="none" stroke="#f88080" stroke-width="1.0" />
<circle cx="432.00" cy="225.30" r="4.3" fill="#f87c7c" stroke="#000" stroke-width="0.8"/>
<circle cx="444.35" cy="64.24" r="4.3" fill="#f87c7c" stroke="#000" stroke-width="0.8"/>
<circle cx="456.69" cy="128.23" r="4.3" fill="#f87c7c" stroke="#000" stroke-width="0.8"/>
<circle cx="469.03" cy="207.65" r="4.3" fill="#f87c7c" stroke="#000" stroke-width="0.8"/>
<circle cx="481.38" cy="220.89" r="4.3" fill="#f87c7c" stroke="#000" stroke-width="0.8"/>
<circle cx="493.73" cy="216.03" r="4.3" fill="#f87c7c" stroke="#000" stroke-width="0.8"/>
<circle cx="506.07" cy="225.30" r="4.3" fill="#f87c7c" stroke="#000" stroke-width="0.8"/>
<circle cx="518.41" cy="225.30" r="4.3" fill="#f87c7c" stroke="#000" stroke-width="0.8"/>
<circle cx="530.76" cy="225.30" r="4.3" fill="#f87c7c" stroke="#000" stroke-width="0.8"/>
<circle cx="543.11" cy="225.30" r="4.3" fill="#f87c7c" stroke="#000" stroke-width="0.8"/>
<circle cx="555.45" cy="225.30" r="4.3" fill="#f87c7c" stroke="#000" stroke-width="0.8"/>
<circle cx="567.79" cy="225.30" r="4.3" fill="#f87c7c" stroke="#000" stroke-width="0.8"/>
<circle cx="580.14" cy="225.30" r="4.3" fill="#f87c7c" stroke="#000" stroke-width="0.8"/>
<circle cx="592.49" cy="225.30" r="4.3" fill="#f87c7c" stroke="#000" stroke-width="0.8"/>
<circle cx="604.83" cy="225.30" r="4.3" fill="#f87c7c" stroke="#000" stroke-width="0.8"/>
<circle cx="617.17" cy="225.30" r="4.3" fill="#f87c7c" stroke="#000" stroke-width="0.8"/>
<circle cx="629.52" cy="223.09" r="4.3" fill="#f87c7c" stroke="#000" stroke-width="0.8"/>
<circle cx="641.87" cy="225.30" r="4.3" fill="#f87c7c" stroke="#000" stroke-width="0.8"/>
<circle cx="654.21" cy="225.30" r="4.3" fill="#f87c7c" stroke="#000" stroke-width="0.8"/>
<circle cx="666.55" cy="225.30" r="4.3" fill="#f87c7c" stroke="#000" stroke-width="0.8"/>
<circle cx="678.90" cy="225.30" r="4.3" fill="#f87c7c" stroke="#000" stroke-width="0.8"/>
<circle cx="448.37" cy="472.20" r="3.6" fill="#0000ff" stroke="#000" stroke-width="0.8"/>
<circle cx="452.48" cy="454.50" r="3.6" fill="#0000ff" stroke="#000" stroke-width="0.8"/>
<circle cx="464.83" cy="472.20" r="3.6" fill="#0000ff" stroke="#000" stroke-width="0.8"/>
<circle cx="468.95" cy="444.15" r="3.6" fill="#0000ff" stroke="#000" stroke-width="0.8"/>
<circle cx="473.07" cy="444.15" r="3.6" fill="#0000ff" stroke="#000" stroke-width="0.8"/>
<circle cx="477.18" cy="419.10" r="3.6" fill="#0000ff" stroke="#000" stroke-width="0.8"/>
<circle cx="481.30" cy="419.10" r="3.6" fill="#0000ff" stroke="#000" stroke-width="0.8"/>
<circle cx="485.42" cy="413.40" r="3.6" fill="#0000ff" stroke="#000" stroke-width="0.8"/>
<circle cx="489.53" cy="406.70" r="3.6" fill="#0000ff" stroke="#000" stroke-width="0.8"/>
<circle cx="493.65" cy="390.00" r="3.6" fill="#0000ff" stroke="#000" stroke-width="0.8"/>
<circle cx="497.77" cy="391.04" r="3.6" fill="#0000ff" stroke="#000" stroke-width="0.8"/>
<circle cx="501.88" cy="390.00" r="3.6" fill="#0000ff" stroke="#000" stroke-width="0.8"/>
<circle cx="506.00" cy="379.31" r="3.6" fill="#0000ff" stroke="#000" stroke-width="0.8"/>
<circle cx="510.12" cy="374.99" r="3.6" fill="#0000ff" stroke="#000" stroke-width="0.8"/>
<circle cx="514.23" cy="382.15" r="3.6" fill="#0000ff" stroke="#000" stroke-width="0.8"/>
<circle cx="518.35" cy="384.84" r="3.6" fill="#0000ff" stroke="#000" stroke-width="0.8"/>
<circle cx="522.47" cy="382.38" r="3.6" fill="#0000ff" stroke="#000" stroke-width="0.8"/>
<circle cx="526.58" cy="398.82" r="3.6" fill="#0000ff" stroke="#000" stroke-width="0.8"/>
<circle cx="530.70" cy="383.94" r="3.6" fill="#0000ff" stroke="#000" stroke-width="0.8"/>
<circle cx="534.82" cy="391.36" r="3.6" fill="#0000ff" stroke="#000" stroke-width="0.8"/>
<circle cx="538.93" cy="401.88" r="3.6" fill="#0000ff" stroke="#000" stroke-width="0.8"/>
<circle cx="543.05" cy="400.15" r="3.6" fill="#0000ff" stroke="#000" stroke-width="0.8"/>
<circle cx="547.17" cy="403.05" r="3.6" fill="#0000ff" stroke="#000" stroke-width="0.8"/>
<circle cx="551.28" cy="401.40" r="3.6" fill="#0000ff" stroke="#000" stroke-width="0.8"/>
<circle cx="555.40" cy="426.44" r="3.6" fill="#0000ff" stroke="#000" stroke-width="0.8"/>
<circle cx="559.52" cy="406.70" r="3.6" fill="#0000ff" stroke="#000" stroke-width="0.8"/>
<circle cx="563.63" cy="444.15" r="3.6" fill="#0000ff" stroke="#000" stroke-width="0.8"/>
<circle cx="567.75" cy="426.44" r="3.6" fill="#0000ff" stroke="#000" stroke-width="0.8"/>
<circle cx="571.87" cy="436.80" r="3.6" fill="#0000ff" stroke="#000" stroke-width="0.8"/>
<circle cx="575.98" cy="436.80" r="3.6" fill="#0000ff" stroke="#000" stroke-width="0.8"/>
<circle cx="580.10" cy="454.50" r="3.6" fill="#0000ff" stroke="#000" stroke-width="0.8"/>
<circle cx="584.22" cy="444.15" r="3.6" fill="#0000ff" stroke="#000" stroke-width="0.8"/>
<circle cx="588.33" cy="472.20" r="3.6" fill="#0000ff" stroke="#000" stroke-width="0.8"/>
<circle cx="592.45" cy="472.20" r="3.6" fill="#0000ff" stroke="#000" stroke-width="0.8"/>
<circle cx="600.68" cy="472.20" r="3.6" fill="#0000ff" stroke="#000" stroke-width="0.8"/>
<circle cx="629.50" cy="472.20" r="3.6" fill="#0000ff" stroke="#000" stroke-width="0.8"/>
<circle cx="637.73" cy="472.20" r="3.6" fill="#0000ff" stroke="#000" stroke-width="0.8"/>
<circle cx="658.32" cy="472.20" r="3.6" fill="#0000ff" stroke="#000" stroke-width="0.8"/>
<rect x="429.45" y="311.00" width="4.9" height="5.0" fill="#d0d0d0" stroke="#333" stroke-width="0.85"/>
<rect x="433.57" y="311.00" width="4.9" height="5.0" fill="#d0d0d0" stroke="#333" stroke-width="0.85"/>
<rect x="437.68" y="311.00" width="4.9" height="5.0" fill="#d0d0d0" stroke="#333" stroke-width="0.85"/>
<rect x="441.80" y="311.00" width="4.9" height="5.0" fill="#d0d0d0" stroke="#333" stroke-width="0.85"/>
<rect x="445.92" y="311.00" width="4.9" height="5.0" fill="#d0d0d0" stroke="#333" stroke-width="0.85"/>
<rect x="450.03" y="311.67" width="4.9" height="5.0" fill="#d0d0d0" stroke="#333" stroke-width="0.85"/>
<rect x="454.15" y="311.67" width="4.9" height="5.0" fill="#d0d0d0" stroke="#333" stroke-width="0.85"/>
<rect x="458.27" y="311.67" width="4.9" height="5.0" fill="#d0d0d0" stroke="#333" stroke-width="0.85"/>
<rect x="462.38" y="311.67" width="4.9" height="5.0" fill="#d0d0d0" stroke="#333" stroke-width="0.85"/>
<rect x="466.50" y="311.67" width="4.9" height="5.0" fill="#d0d0d0" stroke="#333" stroke-width="0.85"/>
<rect x="470.62" y="312.04" width="4.9" height="5.0" fill="#d0d0d0" stroke="#333" stroke-width="0.85"/>
<rect x="474.73" y="312.20" width="4.9" height="5.0" fill="#d0d0d0" stroke="#333" stroke-width="0.85"/>
<rect x="478.85" y="312.42" width="4.9" height="5.0" fill="#d0d0d0" stroke="#333" stroke-width="0.85"/>
<rect x="482.97" y="313.13" width="4.9" height="5.0" fill="#d0d0d0" stroke="#333" stroke-width="0.85"/>
<rect x="487.08" y="313.80" width="4.9" height="5.0" fill="#d0d0d0" stroke="#333" stroke-width="0.85"/>
<rect x="491.20" y="314.50" width="4.9" height="5.0" fill="#d0d0d0" stroke="#333" stroke-width="0.85"/>
<rect x="495.32" y="315.64" width="4.9" height="5.0" fill="#d0d0d0" stroke="#333" stroke-width="0.85"/>
<rect x="499.43" y="317.08" width="4.9" height="5.0" fill="#d0d0d0" stroke="#333" stroke-width="0.85"/>
<rect x="503.55" y="319.32" width="4.9" height="5.0" fill="#d0d0d0" stroke="#333" stroke-width="0.85"/>
<rect x="507.67" y="321.84" width="4.9" height="5.0" fill="#d0d0d0" stroke="#333" stroke-width="0.85"/>
<rect x="511.78" y="326.17" width="4.9" height="5.0" fill="#d0d0d0" stroke="#333" stroke-width="0.85"/>
<rect x="515.90" y="329.11" width="4.9" height="5.0" fill="#d0d0d0" stroke="#333" stroke-width="0.85"/>
<rect x="520.02" y="332.08" width="4.9" height="5.0" fill="#d0d0d0" stroke="#333" stroke-width="0.85"/>
<rect x="524.13" y="335.31" width="4.9" height="5.0" fill="#d0d0d0" stroke="#333" stroke-width="0.85"/>
<rect x="528.25" y="339.62" width="4.9" height="5.0" fill="#d0d0d0" stroke="#333" stroke-width="0.85"/>
<rect x="532.37" y="344.63" width="4.9" height="5.0" fill="#d0d0d0" stroke="#333" stroke-width="0.85"/>
<rect x="536.48" y="350.13" width="4.9" height="5.0" fill="#d0d0d0" stroke="#333" stroke-width="0.85"/>
<rect x="540.60" y="354.23" width="4.9" height="5.0" fill="#d0d0d0" stroke="#333" stroke-width="0.85"/>
<rect x="544.72" y="359.45" width="4.9" height="5.0" fill="#d0d0d0" stroke="#333" stroke-width="0.85"/>
<rect x="548.83" y="365.14" width="4.9" height="5.0" fill="#d0d0d0" stroke="#333" stroke-width="0.85"/>
<rect x="552.95" y="371.38" width="4.9" height="5.0" fill="#d0d0d0" stroke="#333" stroke-width="0.85"/>
<rect x="557.07" y="375.50" width="4.9" height="5.0" fill="#d0d0d0" stroke="#333" stroke-width="0.85"/>
<rect x="561.18" y="384.61" width="4.9" height="5.0" fill="#d0d0d0" stroke="#333" stroke-width="0.85"/>
<rect x="565.30" y="387.50" width="4.9" height="5.0" fill="#d0d0d0" stroke="#333" stroke-width="0.85"/>
<rect x="569.42" y="394.51" width="4.9" height="5.0" fill="#d0d0d0" stroke="#333" stroke-width="0.85"/>
<rect x="573.53" y="400.55" width="4.9" height="5.0" fill="#d0d0d0" stroke="#333" stroke-width="0.85"/>
<rect x="577.65" y="410.90" width="4.9" height="5.0" fill="#d0d0d0" stroke="#333" stroke-width="0.85"/>
<rect x="581.77" y="413.59" width="4.9" height="5.0" fill="#d0d0d0" stroke="#333" stroke-width="0.85"/>
<rect x="585.88" y="428.60" width="4.9" height="5.0" fill="#d0d0d0" stroke="#333" stroke-width="0.85"/>
<rect x="590.00" y="428.60" width="4.9" height="5.0" fill="#d0d0d0" stroke="#333" stroke-width="0.85"/>
<rect x="594.12" y="434.30" width="4.9" height="5.0" fill="#d0d0d0" stroke="#333" stroke-width="0.85"/>
<rect x="598.23" y="434.30" width="4.9" height="5.0" fill="#d0d0d0" stroke="#333" stroke-width="0.85"/>
<rect x="602.35" y="441.65" width="4.9" height="5.0" fill="#d0d0d0" stroke="#333" stroke-width="0.85"/>
<rect x="606.47" y="441.65" width="4.9" height="5.0" fill="#d0d0d0" stroke="#333" stroke-width="0.85"/>
<rect x="610.58" y="441.65" width="4.9" height="5.0" fill="#d0d0d0" stroke="#333" stroke-width="0.85"/>
<rect x="614.70" y="441.65" width="4.9" height="5.0" fill="#d0d0d0" stroke="#333" stroke-width="0.85"/>
<rect x="618.82" y="441.65" width="4.9" height="5.0" fill="#d0d0d0" stroke="#333" stroke-width="0.85"/>
<rect x="622.93" y="441.65" width="4.9" height="5.0" fill="#d0d0d0" stroke="#333" stroke-width="0.85"/>
<rect x="627.05" y="452.00" width="4.9" height="5.0" fill="#d0d0d0" stroke="#333" stroke-width="0.85"/>
<rect x="631.17" y="452.00" width="4.9" height="5.0" fill="#d0d0d0" stroke="#333" stroke-width="0.85"/>
<rect x="635.28" y="452.00" width="4.9" height="5.0" fill="#d0d0d0" stroke="#333" stroke-width="0.85"/>
<rect x="639.40" y="469.70" width="4.9" height="5.0" fill="#d0d0d0" stroke="#333" stroke-width="0.85"/>
<rect x="643.52" y="469.70" width="4.9" height="5.0" fill="#d0d0d0" stroke="#333" stroke-width="0.85"/>
<rect x="647.63" y="469.70" width="4.9" height="5.0" fill="#d0d0d0" stroke="#333" stroke-width="0.85"/>
<rect x="651.75" y="469.70" width="4.9" height="5.0" fill="#d0d0d0" stroke="#333" stroke-width="0.85"/>
<rect x="655.87" y="469.70" width="4.9" height="5.0" fill="#d0d0d0" stroke="#333" stroke-width="0.85"/>
<line x1="510.20" y1="323.50" x2="655.80" y2="471.50" stroke="#ff0000" stroke-width="2.6" stroke-dasharray="8.5,4"/>
<path d="M503.3,308.6 L516.9,308.6 L510.3,319.1 Z" fill="#a8d8e6" stroke="#000" stroke-width="1"/>
<text x="523.20" y="314.60" font-family="'Liberation Sans', sans-serif" font-size="16" text-anchor="start" font-weight="normal" font-style="normal" fill="#000" >M<tspan font-size="11.5" dy="3">c</tspan></text>
<line x1="144.00" y1="399.20" x2="184.40" y2="399.20" stroke="#000" stroke-width="1.7" />
<path d="M139,399.2 L147,396.4 L145.3,399.2 L147,402 Z" fill="#000"/>
<path d="M189.4,399.2 L181.4,396.4 L183.1,399.2 L181.4,402 Z" fill="#000"/>
<text x="163.70" y="411.90" font-family="'Liberation Serif', serif" font-size="12" text-anchor="middle" font-weight="normal" font-style="normal" fill="#000" >corridor</text>
<circle cx="66.60" cy="456.50" r="6.5" fill="#00ffff" stroke="#000" stroke-width="2.2"/>
<text x="80.10" y="449.60" font-family="'Liberation Serif', serif" font-size="11.6" text-anchor="start" font-weight="normal" font-style="normal" fill="#000" >average</text>
<text x="80.10" y="463.60" font-family="'Liberation Serif', serif" font-size="11.6" text-anchor="start" font-weight="normal" font-style="normal" fill="#000" >velocity</text>
<circle cx="230.90" cy="456.60" r="6.5" fill="#00ffff" stroke="#000" stroke-width="2.2"/>
<text x="244.40" y="450.00" font-family="'Liberation Serif', serif" font-size="11.6" text-anchor="start" font-weight="normal" font-style="normal" fill="#000" >average</text>
<text x="244.40" y="464.00" font-family="'Liberation Serif', serif" font-size="11.6" text-anchor="start" font-weight="normal" font-style="normal" fill="#000" >velocity</text>
<rect x="566" y="57.6" width="103.8" height="55.6" fill="#fff" stroke="#000" stroke-width="1.5"/>
<circle cx="574.50" cy="69.40" r="4.5" fill="#0000ff" stroke="#000" stroke-width="0.8"/>
<text x="585.40" y="73.60" font-family="'Liberation Sans', sans-serif" font-size="12.5" text-anchor="start" font-weight="bold" font-style="italic" fill="#000" >Lateral minor</text>
<circle cx="574.50" cy="85.15" r="4.5" fill="#999999" stroke="#000" stroke-width="0.8"/>
<text x="585.40" y="89.35" font-family="'Liberation Sans', sans-serif" font-size="12.5" text-anchor="start" font-weight="bold" font-style="italic" fill="#000" >Lateral major</text>
<circle cx="574.50" cy="100.90" r="4.5" fill="#f87c7c" stroke="#000" stroke-width="0.8"/>
<text x="585.40" y="105.10" font-family="'Liberation Sans', sans-serif" font-size="12.5" text-anchor="start" font-weight="bold" font-style="italic" fill="#000" >Vertical</text>
<text x="391.00" y="15.20" font-family="'Liberation Serif', serif" font-size="21" text-anchor="start" font-weight="normal" font-style="normal" fill="#000" >(b)</text>
<text x="555.00" y="13.00" font-family="'Liberation Serif', serif" font-size="15" text-anchor="middle" font-weight="bold" font-style="normal" fill="#000" >Relative Location Error [km]</text>
<text x="391.00" y="137.00" font-family="'Liberation Serif', serif" font-size="15" text-anchor="middle" font-weight="bold" font-style="normal" fill="#000" transform="rotate(-90 391 137)">Frequency [%]</text>
<rect x="584.6" y="301.9" width="89.3" height="62.3" fill="#fff" stroke="#000" stroke-width="1.5"/>
<text x="590.00" y="317.20" font-family="'Liberation Sans', sans-serif" font-size="11.3" text-anchor="start" font-weight="bold" font-style="italic" fill="#000" >b<tspan font-size="7.5" dy="2.5">v</tspan><tspan dy="-2.5"> = 0.6</tspan><tspan font-weight="normal" font-style="normal" fill="#444" dx="1.5">±</tspan><tspan dx="3">0.03</tspan></text>
<text x="590.00" y="331.80" font-family="'Liberation Sans', sans-serif" font-size="11.3" text-anchor="start" font-weight="bold" font-style="italic" fill="#000" >M<tspan font-size="7.5" dy="2.5">c</tspan><tspan dy="-2.5"> = 2.9</tspan><tspan font-weight="normal" font-style="normal" fill="#444" dx="1.5">±</tspan><tspan dx="3">0.05</tspan></text>
<rect x="589.6" y="340.3" width="6.2" height="6.2" fill="#c8c8c8" stroke="#333" stroke-width="0.8"/>
<text x="603.30" y="346.40" font-family="'Liberation Sans', sans-serif" font-size="11.3" text-anchor="start" font-weight="bold" font-style="italic" fill="#000" >Cumulative</text>
<circle cx="593.00" cy="356.30" r="4.4" fill="#0000ff" stroke="#000" stroke-width="0.8"/>
<text x="603.30" y="360.40" font-family="'Liberation Sans', sans-serif" font-size="11.3" text-anchor="start" font-weight="bold" font-style="italic" fill="#000" >Increment</text>
<text x="398.30" y="267.20" font-family="'Liberation Serif', serif" font-size="21" text-anchor="start" font-weight="normal" font-style="normal" fill="#000" >(c)</text>
<text x="556.00" y="258.60" font-family="'Liberation Serif', serif" font-size="15" text-anchor="middle" font-weight="bold" font-style="normal" fill="#000" >Magnitude</text>
<text x="384.70" y="383.00" font-family="'Liberation Serif', serif" font-size="15" text-anchor="middle" font-weight="bold" font-style="normal" fill="#000" transform="rotate(-90 384.7 383)">Total Earthquakes</text>
</svg>
</body></html>
